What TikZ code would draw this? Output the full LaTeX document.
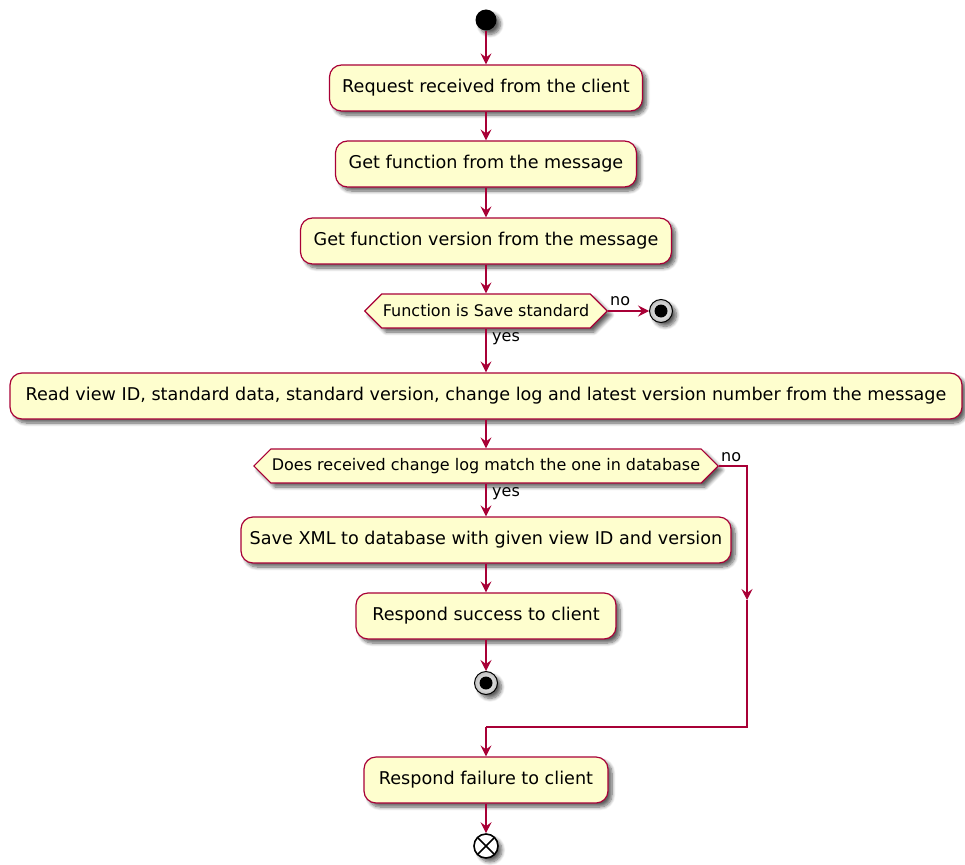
\documentclass[tikz,border=0pt]{standalone}
\usepackage{fontspec}
\setmainfont{DejaVu Sans}
\usetikzlibrary{shapes.symbols,shadows.blur,arrows.meta}
\definecolor{ufill}{HTML}{FEFECE}
\definecolor{uline}{HTML}{A80036}
\tikzset{
  shade3/.style={blur shadow={shadow xshift=4pt, shadow yshift=-4pt, shadow blur radius=3.5pt,
    shadow blur steps=8, shadow opacity=62}},
  act/.style={draw=uline, fill=ufill, rounded corners=12pt, line width=1.2pt,
    minimum height=46pt, inner xsep=4pt, font=\fontsize{17.6}{20}\selectfont, shade3},
  cond/.style={draw=uline, fill=ufill, line width=1.2pt, shape=signal, signal to=west and east,
    signal pointer angle=90, minimum height=34pt, inner xsep=1pt, inner ysep=0pt,
    font=\fontsize{16}{18}\selectfont, shade3},
  flow/.style={draw=uline, line width=1.2pt, -{Stealth[length=11pt,width=11pt,inset=4pt]}},
  wire/.style={draw=uline, line width=1.2pt},
  lbl/.style={font=\fontsize{16}{18}\selectfont, inner sep=0pt},
  startdot/.style={circle, fill=black, minimum size=21pt, inner sep=0pt, shade3},
  stopdot/.style={circle, draw=black, line width=1pt, inner color=white, outer color=black!25,
    minimum size=23pt, inner sep=0pt, shade3,
    path picture={\fill[black] (path picture bounding box.center) circle (6.5pt);}},
  enddot/.style={circle, draw=black, line width=1.6pt, fill=white, minimum size=24pt, inner sep=0pt, shade3,
    path picture={\draw[black,line width=1.6pt]
      ([shift={(-8pt,-8pt)}]path picture bounding box.center) -- ([shift={(8pt,8pt)}]path picture bounding box.center)
      ([shift={(-8pt,8pt)}]path picture bounding box.center) -- ([shift={(8pt,-8pt)}]path picture bounding box.center);}}
}
\begin{document}
\begin{tikzpicture}[x=1pt,y=-1pt]
\useasboundingbox (0,0) rectangle (965,864);

% start
\node[startdot] (start) at (486,20) {};

% main sequence of actions
\node[act, minimum width=313pt] (req) at (486,88) {Request received from the client};
\node[act, minimum width=301pt] (getfn) at (486,164) {Get function from the message};
\node[act, minimum width=371pt] (getver) at (486,241) {Get function version from the message};
\node[cond, minimum width=242pt] (isSave) at (486,311) {Function is Save standard};
\node[stopdot] (stopA) at (661,311) {};
\node[act, minimum width=952pt] (read) at (486,396) {Read view ID, standard data, standard version, change log and latest version number from the message};
\node[cond, minimum width=464pt] (match) at (486,466) {Does received change log match the one in database};
\node[act, minimum width=490pt] (save) at (486,540) {Save XML to database with given view ID and version};
\node[act, minimum width=260pt] (ok) at (486,616) {Respond success to client};
\node[stopdot] (stopB) at (486,683) {};
\node[act, minimum width=244pt] (fail) at (486,780) {Respond failure to client};
\node[enddot] (finish) at (486,846) {};

% helper points of the "no" branch
\coordinate (nA) at (747,466);
\coordinate (nB) at (747,600);
\coordinate (nC) at (747,727);
\coordinate (nD) at (486,727);

% connectors
\draw[flow] (start) -- (req);
\draw[flow] (req) -- (getfn);
\draw[flow] (getfn) -- (getver);
\draw[flow] (getver) -- (isSave.north);
\draw[flow] (isSave.east) -- (stopA);
\draw[flow] (isSave.south) -- (read.north);
\draw[flow] (read) -- (match.north);
\draw[flow] (match.south) -- (save.north);
\draw[flow] (save) -- (ok);
\draw[flow] (ok) -- (stopB);
\draw[flow] (match.east) -- (nA) -- (nB);
\draw[wire] (nB) -- (nC) -- (nD);
\draw[flow] (nD) -- (fail.north);
\draw[flow] (fail) -- (finish);

% branch labels
\node[lbl, anchor=base west] at (610,305) {no};
\node[lbl, anchor=base west] at (492,341) {yes};
\node[lbl, anchor=base west] at (721,461) {no};
\node[lbl, anchor=base west] at (492,496) {yes};
\end{tikzpicture}
\end{document}
